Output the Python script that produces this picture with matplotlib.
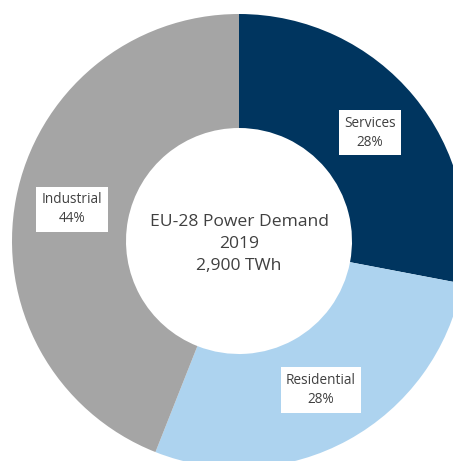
import numpy as np
import matplotlib
matplotlib.use('Agg')
import matplotlib.pyplot as plt

# EU-28 power demand by sector, 2019
sectors = ['Services', 'Residential', 'Industrial']
shares = [28, 28, 44]
colors = ['#00355F', '#ADD3EF', '#A5A5A5']
centre_lines = ['EU-28 Power Demand', '2019', '2,900 TWh']

plt.rcParams['font.family'] = ['Open Sans', 'DejaVu Sans']

fig = plt.figure(figsize=(4.53, 4.61), dpi=100)
ax = fig.add_axes([0, 0, 1, 1])

outer = 227
inner = 113
wedges, _ = ax.pie(shares, colors=colors, startangle=90, counterclock=False,
                   radius=outer, wedgeprops=dict(width=outer - inner, linewidth=0))

# label boxes sit in the middle of the ring
r_lab = (outer + inner) / 2
for w, name, pct in zip(wedges, sectors, shares):
    ang = np.radians((w.theta1 + w.theta2) / 2)
    ax.text(r_lab * np.cos(ang), r_lab * np.sin(ang), f'{name}\n{pct}%',
            ha='center', va='center', fontsize=9.8, color='#404040', linespacing=1.38,
            bbox=dict(facecolor='white', edgecolor='none', boxstyle='square,pad=0.4'))

ax.text(0, -3, '\n'.join(centre_lines), ha='center', va='center',
        fontsize=12.6, color='#404040', linespacing=1.5)

# centre at pixel (239, 241) of the 453x461 image
ax.set_xlim(-239, 453 - 239)
ax.set_ylim(-(461 - 241), 241)
ax.set_aspect('equal')
ax.axis('off')

fig.savefig('out.png', dpi=100)
